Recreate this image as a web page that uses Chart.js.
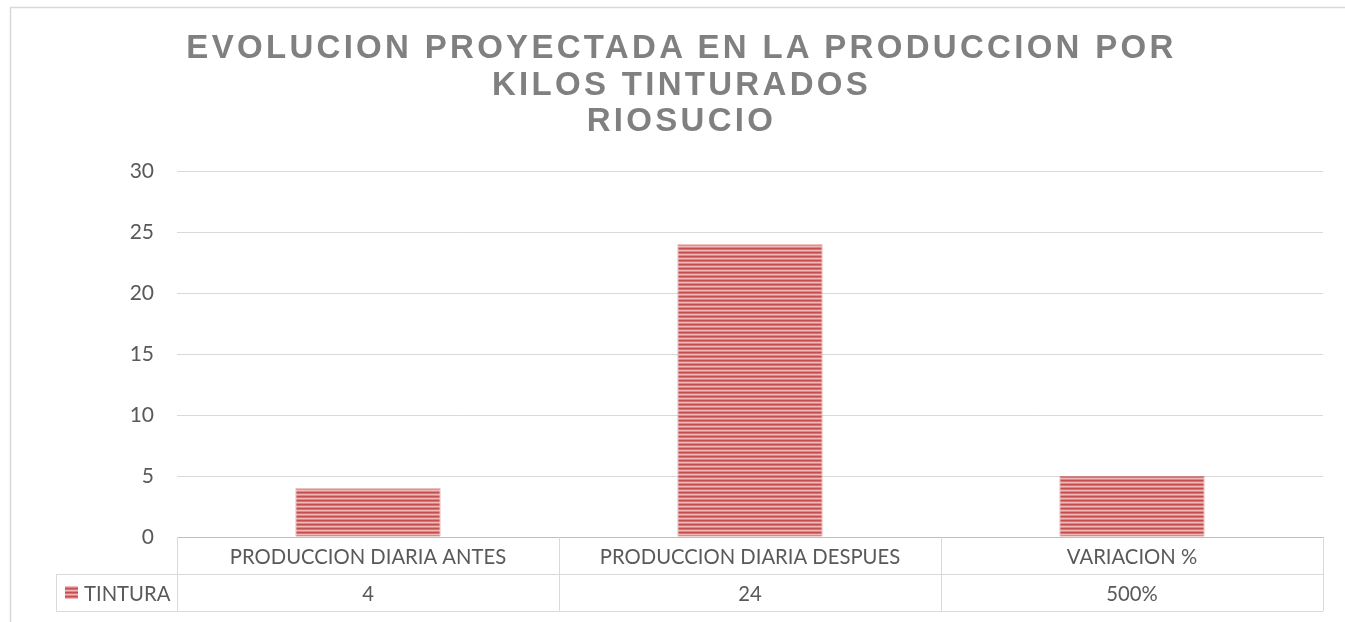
<!DOCTYPE html>
<html>
<head>
<meta charset="utf-8">
<script src="https://cdn.jsdelivr.net/npm/chart.js@4/dist/chart.umd.min.js"></script>
<style>
  html, body { margin: 0; padding: 0; background: #fff; }
  #wrap { position: relative; width: 1345px; height: 622px; overflow: hidden; }
  #title {
    position: absolute; left: 0; top: 29px; width: 1363px; text-align: center;
    font-family: "Liberation Sans", Arial, sans-serif; font-weight: bold;
    font-size: 33px; line-height: 36.5px; letter-spacing: 3.3px; color: #808080;
  }
  canvas { position: absolute; left: 0; top: 0; }
</style>
</head>
<body>
<div id="wrap">
  <canvas id="c" width="1345" height="622"></canvas>
  <div id="title"></div>
</div>
<script>
const titleLines = ['EVOLUCION PROYECTADA EN LA PRODUCCION POR', 'KILOS TINTURADOS', 'RIOSUCIO'];
const categories = ['PRODUCCION DIARIA ANTES', 'PRODUCCION DIARIA DESPUES', 'VARIACION %'];
const seriesName = 'TINTURA';
const tintura = [4, 24, 5];
const tableLabels = ['4', '24', '500%'];
const yMin = 0, yMax = 30, yStep = 5;

document.getElementById('title').innerHTML = titleLines.join('<br>');

// striped pattern (narrow horizontal)
function makePattern() {
  const t = document.createElement('canvas');
  t.width = 4; t.height = 4;
  const g = t.getContext('2d');
  const rows = ['#c44f4f', '#d97272', '#f2b8b8', '#e08686'];
  rows.forEach((c, i) => { g.fillStyle = c; g.fillRect(0, i, 4, 1); });
  return document.getElementById('c').getContext('2d').createPattern(t, 'repeat');
}
const pattern = makePattern();

const FONT = 'Lato, "Open Sans", sans-serif';
const TXT = '#595959';
const LINE = '#d9d9d9';

const framePlugin = {
  id: 'frame',
  beforeDraw(chart) {
    const ctx = chart.ctx;
    ctx.save();
    ctx.strokeStyle = LINE;
    ctx.lineWidth = 1.5;
    ctx.strokeRect(10.5, 7.5, 2000, 2000);
    ctx.restore();
  }
};

const tablePlugin = {
  id: 'dataTable',
  afterDraw(chart) {
    const ctx = chart.ctx;
    const x = chart.scales.x;
    const area = chart.chartArea;
    const rowH = 37;
    const top = area.bottom;
    const r1 = top + rowH, r2 = top + 2 * rowH;
    const right = x.getPixelForValue(categories.length - 0.5);
    const headLeft = 56;
    ctx.save();
    ctx.strokeStyle = LINE;
    ctx.lineWidth = 1;
    ctx.beginPath();
    ctx.moveTo(headLeft, Math.round(r1) + 0.5); ctx.lineTo(right, Math.round(r1) + 0.5);
    ctx.moveTo(headLeft, Math.round(r2) + 0.5); ctx.lineTo(right, Math.round(r2) + 0.5);
    for (let i = 0; i <= categories.length; i++) {
      const px = Math.round(x.getPixelForValue(i - 0.5)) + 0.5;
      ctx.moveTo(px, top); ctx.lineTo(px, r2);
    }
    ctx.moveTo(headLeft + 0.5, r1); ctx.lineTo(headLeft + 0.5, r2);
    ctx.stroke();

    // legend key
    ctx.fillStyle = pattern;
    ctx.fillRect(65, 586, 13, 13);
    ctx.fillStyle = TXT;
    ctx.font = '20.25px ' + FONT;
    ctx.textBaseline = 'middle';
    ctx.textAlign = 'left';
    ctx.fillText(seriesName, 84, (r1 + r2) / 2 + 1.5);
    ctx.textAlign = 'center';
    tableLabels.forEach((lab, i) => {
      ctx.fillText(lab, x.getPixelForValue(i), (r1 + r2) / 2 + 1.5);
    });
    ctx.restore();
  }
};

new Chart(document.getElementById('c'), {
  type: 'bar',
  data: {
    labels: categories,
    datasets: [{
      label: seriesName,
      data: tintura,
      backgroundColor: pattern,
      borderColor: 'rgba(192,72,72,0.6)',
      borderWidth: 1,
      categoryPercentage: 1,
      barPercentage: 0.38
    }]
  },
  options: {
    responsive: false,
    animation: false,
    layout: { padding: { top: 171, right: 22, bottom: 0, left: 0 } },
    plugins: { legend: { display: false }, tooltip: { enabled: false }, title: { display: false } },
    scales: {
      x: {
        grid: { display: false },
        border: { display: true, color: '#bfbfbf', width: 1 },
        ticks: { color: TXT, font: { family: FONT, size: 20.25 }, padding: 0, maxRotation: 0, autoSkip: false },
        afterFit(s) { s.height = 85; }
      },
      y: {
        min: yMin, max: yMax,
        grid: { color: LINE, drawTicks: false, lineWidth: 1 },
        border: { display: false },
        ticks: { stepSize: yStep, color: TXT, font: { family: FONT, size: 21 }, padding: 23 },
        afterFit(s) { s.width = 177; }
      }
    }
  },
  plugins: [framePlugin, tablePlugin]
});
</script>
</body>
</html>
